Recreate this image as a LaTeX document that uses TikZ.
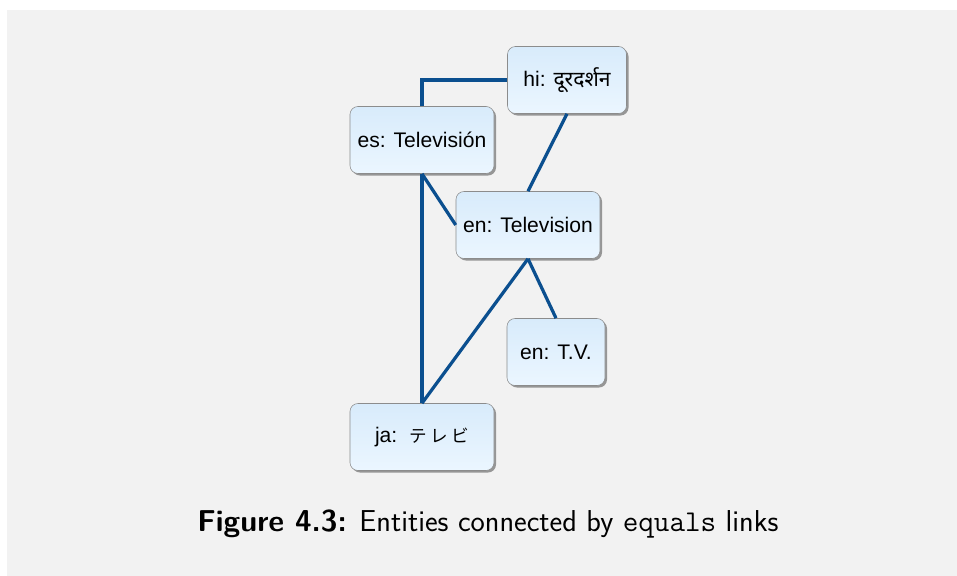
\documentclass[tikz,border=0pt]{standalone}
\usepackage{fontspec}
\usetikzlibrary{shadows}
\newfontfamily\boxfont{Liberation Sans}
\newfontfamily\hindifont[Script=Devanagari]{Noto Sans}
\newfontfamily\jafont[LetterSpace=18]{Noto Sans CJK JP}
\definecolor{linkblue}{HTML}{0B4F8F}
\definecolor{bggray}{HTML}{F2F2F2}
\definecolor{boxtop}{HTML}{D8EBFB}
\definecolor{boxbottom}{HTML}{EBF6FF}
\definecolor{boxedge}{HTML}{8C8C8C}

\begin{document}
\begin{tikzpicture}[x=0.025cm, y=-0.025cm,
	entity/.style={draw=boxedge, rounded corners=0.2cm, top color=boxtop, bottom color=boxbottom,
		minimum height=1.675cm, minimum width=3.6cm, inner sep=0pt,
		font=\boxfont\fontsize{15}{18}\selectfont,
		drop shadow={shadow xshift=0.05cm, shadow yshift=-0.05cm, opacity=0.6, fill=black!65}},
	link/.style={draw=linkblue, line width=2.3pt}]
			\useasboundingbox (0,0) rectangle (957,576);
			\fill[bggray] (7,10) rectangle (957,576);
			
			\node[entity, minimum width=2.975cm](hi) at (567,80) {hi: {\hindifont दूरदर्शन}};
			\node[entity](es) at (422,140) {es: Televisión};
			\node[entity](enTV) at (528,225) {en: Television};
			\node[entity, minimum width=2.45cm](tv) at (556,352) {en: T.V.};
			\node[entity](ja) at (422,437) {ja:\hspace{0.6em}{\jafont\fontsize{12.5}{16}\selectfont テレビ}};
			
			\draw[link](es.north) |- (hi.west);
			\draw[link](hi.south) -- (enTV.north);
			\draw[link](es.south) -- (enTV.west);
			\draw[link](es.south) -- (ja.north);
			\draw[link](enTV.south) -- (ja.north);
			\draw[link](enTV.south) -- (tv.north);
			
			\node(caption) at (488,524) {\fontsize{21.5}{25}\selectfont\sffamily\textbf{Figure 4.3:} Entities connected by \texttt{equals} links};
\end{tikzpicture}
\end{document}
